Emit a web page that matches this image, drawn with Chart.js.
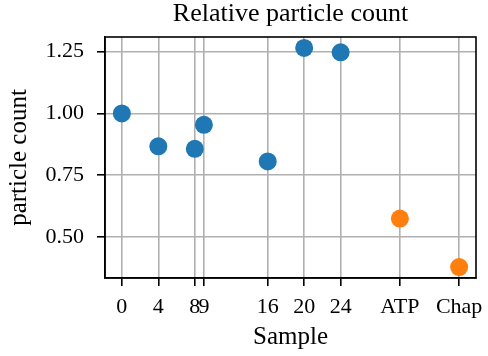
<!doctype html>
<html>
    <head>
        <meta charset="utf-8">
        <title>Relative particle count</title>
        <script src="https://cdn.jsdelivr.net/npm/chart.js@4"></script>
        <style>
            html, body { margin: 0; padding: 0; background: #ffffff; }
            #wrap { width: 488px; height: 356px; }
        </style>
    </head>
    <body>
        <div id="wrap"><canvas id="scatter-chart" width="488" height="356"></canvas></div>

<script>
    // sample positions on the x axis and their labels
    var sampleLabels = ['0', '4', '8', '9', '16', '20', '24', 'ATP', 'Chap'];
    var samplePos = [0, 4, 8, 9, 16, 20, 24, 30.5, 37];
    // relative particle counts
    var countValues = [1.000, 0.867, 0.857, 0.954, 0.806, 1.265, 1.247, 0.575, 0.379];
    var yTicks = [0.50, 0.75, 1.00, 1.25];
    var nbTime = 7; // first points are the time samples, the rest are controls

    var timeData = [], ctrlData = [];
    for (var i = 0; i < samplePos.length; i++) {
        var pt = { x: samplePos[i], y: countValues[i] };
        if (i < nbTime) timeData.push(pt); else ctrlData.push(pt);
    }

    var police = '"Liberation Serif", "Times New Roman", serif';

    // black frame around the plot area (all four sides)
    var cadre = {
        id: 'cadre',
        beforeDatasetsDraw: function(chart) {
            var a = chart.chartArea, ctx = chart.ctx;
            ctx.save();
            ctx.strokeStyle = '#000000';
            ctx.lineWidth = 1.6;
            ctx.strokeRect(a.left, a.top, a.right - a.left, a.bottom - a.top);
            ctx.restore();
        }
    };

    new Chart(document.getElementById('scatter-chart'), {
        type: 'scatter',
        data: {
            datasets: [
                {
                    data: timeData,
                    backgroundColor: '#1f77b4',
                    borderWidth: 0,
                    pointRadius: 9,
                    pointHoverRadius: 9
                },
                {
                    data: ctrlData,
                    backgroundColor: '#ff7f0e',
                    borderWidth: 0,
                    pointRadius: 9,
                    pointHoverRadius: 9
                }
            ]
        },
        options: {
            responsive: false,
            animation: false,
            events: [],
            layout: { padding: { left: 0, right: 12, top: 0, bottom: 0 } },
            plugins: {
                legend: { display: false },
                tooltip: { enabled: false },
                title: {
                    display: true,
                    fullSize: false,
                    text: 'Relative particle count',
                    color: '#000000',
                    font: { family: police, size: 26, weight: 'normal', lineHeight: 1 },
                    padding: { top: 1, bottom: 10 }
                }
            },
            scales: {
                x: {
                    type: 'linear',
                    min: -1.85,
                    max: 38.85,
                    afterFit: function(scale) {
                        scale.height = 78;
                        scale.paddingLeft = 0;
                        scale.paddingRight = 0;
                    },
                    afterBuildTicks: function(scale) {
                        scale.ticks = samplePos.map(function(v) { return { value: v }; });
                    },
                    ticks: {
                        autoSkip: false,
                        maxRotation: 0,
                        padding: 10,
                        color: '#000000',
                        font: { family: police, size: 22, lineHeight: 1 },
                        callback: function(value, index) { return sampleLabels[index]; }
                    },
                    grid: {
                        color: '#b0b0b0',
                        lineWidth: 1.6,
                        drawTicks: true,
                        tickLength: 8,
                        tickColor: '#000000',
                        tickWidth: 1.6
                    },
                    border: { display: true, color: '#000000', width: 1.6 },
                    title: {
                        display: true,
                        text: 'Sample',
                        color: '#000000',
                        font: { family: police, size: 25, lineHeight: 1 },
                        padding: { top: 0, bottom: 6 }
                    }
                },
                y: {
                    type: 'linear',
                    min: 0.3347,
                    max: 1.309,
                    afterFit: function(scale) {
                        scale.width = 105;
                        scale.paddingTop = 0;
                        scale.paddingBottom = 0;
                    },
                    afterBuildTicks: function(scale) {
                        scale.ticks = yTicks.map(function(v) { return { value: v }; });
                    },
                    ticks: {
                        padding: 13,
                        color: '#000000',
                        font: { family: police, size: 22, lineHeight: 1 },
                        callback: function(value) { return Number(value).toFixed(2); }
                    },
                    grid: {
                        color: '#b0b0b0',
                        lineWidth: 1.6,
                        drawTicks: true,
                        tickLength: 8,
                        tickColor: '#000000',
                        tickWidth: 1.6
                    },
                    border: { display: true, color: '#000000', width: 1.6 },
                    title: {
                        display: true,
                        text: 'particle count',
                        color: '#000000',
                        font: { family: police, size: 25, lineHeight: 1 },
                        padding: { top: 7, bottom: 0 }
                    }
                }
            }
        },
        plugins: [cadre]
    });
</script>
    </body>
</html>
